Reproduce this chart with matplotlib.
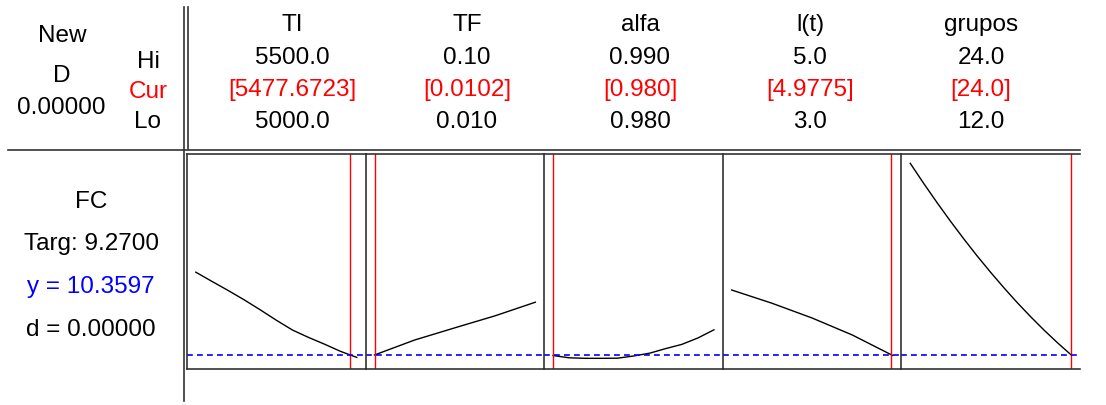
import numpy as np
import matplotlib
matplotlib.use('Agg')
import matplotlib.pyplot as plt

# factores y configuracion del optimizador
factors = ['TI', 'TF', 'alfa', 'l(t)', 'grupos']
hi_labels = ['5500.0', '0.10', '0.990', '5.0', '24.0']
cur_labels = ['[5477.6723]', '[0.0102]', '[0.980]', '[4.9775]', '[24.0]']
lo_labels = ['5000.0', '0.010', '0.980', '3.0', '12.0']
lo = [5000, 0.01, 0.98, 3.0, 12.0]
hi = [5500, 0.10, 0.99, 5.0, 24.0]
cur = [5477.6723, 0.0102, 0.980, 4.9775, 24.0]

# respuesta FC para cada factor
ti_x = [5000, 5050, 5100, 5150, 5200, 5250, 5300, 5350, 5400, 5450, 5500]
ti_y = [12.43, 12.20, 11.975, 11.74, 11.49, 11.23, 10.985, 10.80, 10.63, 10.45, 10.30]
tf_x = [0.01, 0.0325, 0.055, 0.0775, 0.10]
tf_y = [10.36, 10.735, 11.04, 11.34, 11.68]
alfa_x = [0.980, 0.981, 0.982, 0.983, 0.984, 0.985, 0.986, 0.987, 0.988, 0.989, 0.990]
alfa_y = [10.347, 10.29, 10.277, 10.277, 10.28, 10.335, 10.405, 10.52, 10.625, 10.785, 10.99]
lt_x = [3.0, 3.5, 4.0, 4.5, 5.0]
lt_y = [11.985, 11.655, 11.285, 10.86, 10.35]
gr_x = [12, 13, 14, 15, 16, 17, 18, 19, 20, 21, 22, 23, 24]
gr_y = [15.152, 14.651, 14.169, 13.705, 13.26, 12.832, 12.425, 12.035, 11.662, 11.31, 10.975, 10.66, 10.362]
curves = [(ti_x, ti_y), (tf_x, tf_y), (alfa_x, alfa_y), (lt_x, lt_y), (gr_x, gr_y)]

y_opt = 10.3597
ylims = (10.01, 15.385)

W, H = 1106, 406
plt.rcParams['font.family'] = ['Liberation Sans', 'DejaVu Sans']
fig = plt.figure(figsize=(W / 100, H / 100), dpi=100)

# capa en pixeles para textos y lineas del marco
bg = fig.add_axes([0, 0, 1, 1])
bg.set_xlim(0, W)
bg.set_ylim(H, 0)
bg.axis('off')

fs = 17.5
gray = '#333333'
bg.plot([184, 184], [8, 402], color=gray, lw=1.2)
bg.plot([187.5, 187.5], [8, 150], color=gray, lw=1.2)
bg.plot([8, 1080], [151, 151], color=gray, lw=1.2)

# cabecera izquierda
bg.text(62, 36, 'New', fontsize=fs, ha='center', va='center')
bg.text(62, 76, 'D', fontsize=fs, ha='center', va='center')
bg.text(61, 108, '0.00000', fontsize=fs, ha='center', va='center')
bg.text(148, 62, 'Hi', fontsize=fs, ha='center', va='center')
bg.text(148, 92, 'Cur', fontsize=fs, ha='center', va='center', color='red')
bg.text(148, 122, 'Lo', fontsize=fs, ha='center', va='center')

bg.text(91, 202, 'FC', fontsize=fs, ha='center', va='center')
bg.text(91, 244, 'Targ: 9.2700', fontsize=fs, ha='center', va='center')
bg.text(91, 287, 'y = 10.3597', fontsize=fs, ha='center', va='center', color='blue')
bg.text(91, 330, 'd = 0.00000', fontsize=fs, ha='center', va='center')

col_x = [292, 467, 640, 810, 981]
for i in range(5):
    bg.text(col_x[i], 25, factors[i], fontsize=fs, ha='center', va='center')
    bg.text(col_x[i], 58, hi_labels[i], fontsize=fs, ha='center', va='center')
    bg.text(col_x[i], 90, cur_labels[i], fontsize=fs, ha='center', va='center', color='red')
    bg.text(col_x[i], 122, lo_labels[i], fontsize=fs, ha='center', va='center')

# paneles
x0, x1 = 187, 1080
top, bot = 155, 370
pw = (x1 - x0) / 5
for i in range(5):
    ax = fig.add_axes([(x0 + i * pw) / W, 1 - bot / H, pw / W, (bot - top) / H])
    ax.patch.set_alpha(0)
    span = hi[i] - lo[i]
    m = 0.055 * span
    ax.set_xlim(lo[i] - m, hi[i] + m)
    ax.set_ylim(*ylims)
    x, y = curves[i]
    ax.plot(x, y, color='black', lw=1.0)
    ax.axvline(cur[i], color='red', lw=1.0)
    ax.axhline(y_opt, color='blue', lw=1.2, ls=(0, (3.5, 2.5)))
    ax.set_xticks([])
    ax.set_yticks([])
    for s in ['left', 'top', 'bottom']:
        ax.spines[s].set_color(gray)
        ax.spines[s].set_linewidth(1.2)
    ax.spines['right'].set_visible(False)

fig.savefig('out.png', dpi=100)
